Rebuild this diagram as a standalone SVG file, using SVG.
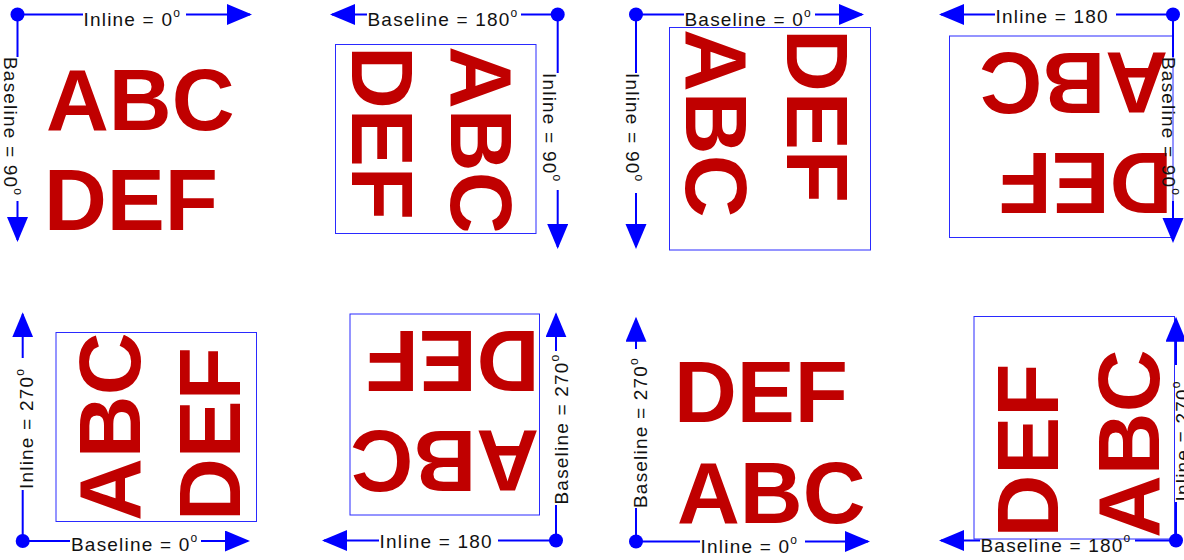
<svg xmlns="http://www.w3.org/2000/svg" width="1184" height="560" viewBox="0 0 1184 560">
<style>
.big{font-family:"Liberation Sans",Arial,sans-serif;font-weight:bold;font-size:87px;fill:#c00000}
.lbl{font-family:"Liberation Sans",Arial,sans-serif;font-size:19px;letter-spacing:1.2px;fill:#111}
.sup{font-size:12px}
.box{fill:none;stroke:#2a2aff;stroke-width:1}
.ax{fill:none;stroke:#0000ff;stroke-width:2;marker-end:url(#arr)}
.dot{fill:#0000ff}
</style>
<defs>
<marker id="arr" markerUnits="userSpaceOnUse" markerWidth="26" markerHeight="22" refX="23" refY="10.5" orient="auto" viewBox="0 0 26 22">
<path d="M0 0L25 10.5L0 21z" fill="#0000ff"/>
</marker>
<clipPath id="c2"><rect x="335" y="44" width="201" height="186.5"/></clipPath>
<clipPath id="c5"><rect x="56" y="335" width="201" height="187"/></clipPath>
</defs>
<rect width="1184" height="560" fill="#fff"/>

<g id="panel-1">
<text class="big" x="46" y="130">ABC</text>
<text class="big" x="44" y="230">DEF</text>
</g>
<g id="panel-2">
<rect class="box" x="335.5" y="44.5" width="200.5" height="189"/>
<g clip-path="url(#c2)">
<text class="big" transform="translate(451 46) rotate(90)">ABC</text>
<text class="big" transform="translate(352 46) rotate(90)">DEF</text>
</g>
</g>
<g id="panel-3">
<rect class="box" x="669.5" y="27.5" width="201" height="222.5"/>
<text class="big" transform="translate(686 29) rotate(90)">ABC</text>
<text class="big" transform="translate(787 29) rotate(90)">DEF</text>
</g>
<g id="panel-4">
<rect class="box" x="949.5" y="36" width="223.5" height="201.5"/>
<text class="big" transform="translate(1168 52.5) rotate(180)">ABC</text>
<text class="big" transform="translate(1172.5 153.3) rotate(180)">DEF</text>
</g>
<g id="panel-5">
<rect class="box" x="56" y="332.5" width="200.5" height="189"/>
<g clip-path="url(#c5)">
<text class="big" transform="translate(140 521) rotate(-90)">ABC</text>
<text class="big" transform="translate(240 521) rotate(-90)">DEF</text>
</g>
</g>
<g id="panel-6">
<rect class="box" x="350" y="314" width="189.5" height="201"/>
<text class="big" transform="translate(539.5 330.7) rotate(180)">DEF</text>
<text class="big" transform="translate(539 430.7) rotate(180)">ABC</text>
</g>
<g id="panel-7">
<text class="big" x="674" y="421.7">DEF</text>
<text class="big" x="677" y="522.7">ABC</text>
</g>
<g id="panel-8">
<rect class="box" x="974" y="316.5" width="200.5" height="222.5"/>
<text class="big" transform="translate(1058 537.5) rotate(-90)">DEF</text>
<text class="big" transform="translate(1158.7 538) rotate(-90)">ABC</text>
</g>

<g id="connectors">
<path class="ax" d="M17.5 14.5H83M186 14.5H250"/>
<path class="ax" d="M17.5 14.5V57M17.5 201V240"/>
<path class="ax" d="M557.7 14.5H521M367 14.5H332"/>
<path class="ax" d="M557.7 14.5V73M557.7 190V247"/>
<path class="ax" d="M636 14.5H684M815 14.5H862"/>
<path class="ax" d="M636 14.5V73M636 193V247"/>
<path class="ax" d="M1173 14.5H1116M995 14.5H941"/>
<path class="ax" d="M1173 14.5V57M1173 201V241"/>
<path class="ax" d="M22.7 541H70M201 541H248"/>
<path class="ax" d="M22.7 541V490M22.7 358V314.3"/>
<path class="ax" d="M556 540.5H498M379 540.5H324"/>
<path class="ax" d="M556 540.5V505M556 351V314.3"/>
<path class="ax" d="M636 541.5H700M805 541.5H868"/>
<path class="ax" d="M636 541.5V508M636 349V318.7"/>
<path class="ax" d="M1176 540.5H1135M980 540.5H941"/>
<path class="ax" d="M1176 540.5V502M1176 365V318.7"/>
<circle class="dot" cx="17.5" cy="14.5" r="7"/>
<circle class="dot" cx="557.7" cy="14.5" r="7"/>
<circle class="dot" cx="636" cy="14.5" r="7"/>
<circle class="dot" cx="1173" cy="14.5" r="7"/>
<circle class="dot" cx="22.7" cy="541" r="7"/>
<circle class="dot" cx="556" cy="540.5" r="7"/>
<circle class="dot" cx="636" cy="541.5" r="7"/>
<circle class="dot" cx="1176" cy="540.5" r="7"/>

<text class="lbl" x="83.5" y="26">Inline = 0<tspan class="sup" dy="-9.5">o</tspan></text>
<text class="lbl" transform="translate(4 57) rotate(90)">Baseline = 90<tspan class="sup" dy="-9.5">o</tspan></text>
<text class="lbl" x="367.5" y="26">Baseline = 180<tspan class="sup" dy="-9.5">o</tspan></text>
<text class="lbl" transform="translate(543 73) rotate(90)">Inline = 90<tspan class="sup" dy="-9.5">o</tspan></text>
<text class="lbl" x="684.5" y="26">Baseline = 0<tspan class="sup" dy="-9.5">o</tspan></text>
<text class="lbl" transform="translate(625.5 73) rotate(90)">Inline = 90<tspan class="sup" dy="-9.5">o</tspan></text>
<text class="lbl" x="995.6" y="22.5">Inline = 180</text>
<text class="lbl" transform="translate(1162 57) rotate(90)">Baseline = 90<tspan class="sup" dy="-9.5">o</tspan></text>
<text class="lbl" x="71" y="551">Baseline = 0<tspan class="sup" dy="-9.5">o</tspan></text>
<text class="lbl" transform="translate(33 489) rotate(-90)">Inline = 270<tspan class="sup" dy="-9.5">o</tspan></text>
<text class="lbl" x="379.6" y="548">Inline = 180</text>
<text class="lbl" transform="translate(568 504.5) rotate(-90)">Baseline = 270<tspan class="sup" dy="-9.5">o</tspan></text>
<text class="lbl" x="700.6" y="553">Inline = 0<tspan class="sup" dy="-9.5">o</tspan></text>
<text class="lbl" transform="translate(647 508) rotate(-90)">Baseline = 270<tspan class="sup" dy="-9.5">o</tspan></text>
<text class="lbl" x="980.5" y="551.5">Baseline = 180<tspan class="sup" dy="-9.5">o</tspan></text>
<text class="lbl" transform="translate(1189 501.5) rotate(-90)">Inline = 270<tspan class="sup" dy="-9.5">o</tspan></text>
</g>
</svg>
